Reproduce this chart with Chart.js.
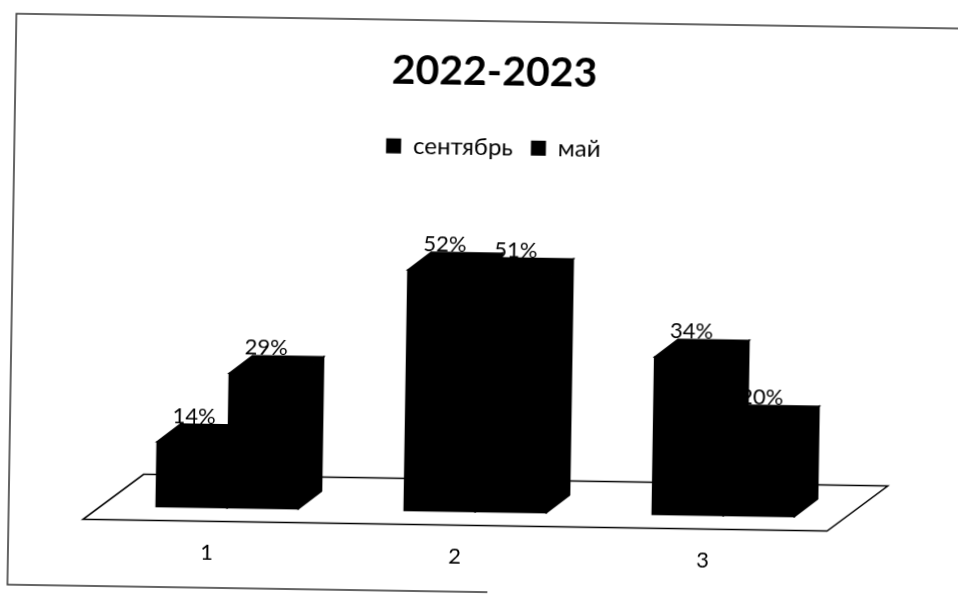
<!DOCTYPE html>
<html>
<head>
<meta charset="utf-8">
<title>2022-2023</title>
<script src="https://cdn.jsdelivr.net/npm/chart.js@4"></script>
<style>
    html, body { margin: 0; background: #fff; overflow: hidden; }
    /* the reference is a slightly crooked scan, so the whole chart leans */
    #chart { display: block; transform: rotate(0.9deg); transform-origin: 479px 297px; }
</style>
</head>
<body>
<canvas id="chart" width="958" height="594"></canvas>
<script>
const categories = ["1", "2", "3"];
const september = [14, 52, 34];
const may = [29, 51, 20];

const depthX = 23;
const depthY = 18;
const shiftX = 20;
const shiftY = 14;

function poly(ctx, pts) {
    ctx.beginPath();
    ctx.moveTo(pts[0][0], pts[0][1]);
    for (let i = 1; i < pts.length; i++) {
        ctx.lineTo(pts[i][0], pts[i][1]);
    }
    ctx.closePath();
}

const scanFrame = {
    id: "scanFrame",
    beforeDraw(chart) {
        const ctx = chart.ctx;
        ctx.save();
        ctx.strokeStyle = "#333";
        ctx.lineWidth = 1.5;
        ctx.beginPath();
        ctx.moveTo(958, 21);
        ctx.lineTo(12, 21);
        ctx.lineTo(12, 592);
        ctx.lineTo(492, 592);
        ctx.stroke();
        ctx.restore();
    }
};

// floor plane, then the bars' top and side faces
const fake3d = {
    id: "fake3d",
    beforeDatasetsDraw(chart) {
        const ctx = chart.ctx;
        const a = chart.chartArea;
        ctx.save();
        ctx.strokeStyle = "#000";
        ctx.lineWidth = 1.5;
        poly(ctx, [
            [a.left, a.bottom],
            [a.right, a.bottom],
            [a.right + 60, a.bottom - 46],
            [a.left + 60, a.bottom - 46]
        ]);
        ctx.stroke();
        ctx.restore();

        ctx.save();
        ctx.translate(shiftX, -shiftY);
    },
    afterDatasetsDraw(chart) {
        const ctx = chart.ctx;
        ctx.fillStyle = "#000";
        ctx.strokeStyle = "#000";
        ctx.lineWidth = 1.5;

        chart.data.datasets.forEach((ds, d) => {
            chart.getDatasetMeta(d).data.forEach((bar) => {
                const l = bar.x - bar.width / 2;
                const r = bar.x + bar.width / 2;
                poly(ctx, [
                    [l, bar.y],
                    [r, bar.y],
                    [r + depthX, bar.y - depthY],
                    [l + depthX, bar.y - depthY]
                ]);
                ctx.fill();
                ctx.stroke();
                poly(ctx, [
                    [r, bar.y],
                    [r + depthX, bar.y - depthY],
                    [r + depthX, bar.base - depthY],
                    [r, bar.base]
                ]);
                ctx.fill();
                ctx.stroke();
                // hides the hairline seams between faces
                ctx.strokeRect(l, bar.y, bar.width, bar.base - bar.y);
            });
        });

        ctx.font = "22px Lato";
        ctx.textAlign = "center";
        ctx.textBaseline = "alphabetic";
        chart.data.datasets.forEach((ds, d) => {
            chart.getDatasetMeta(d).data.forEach((bar, i) => {
                ctx.fillText(ds.data[i] + "%", bar.x + 1, bar.y - depthY - 1);
            });
        });
        ctx.restore();
    }
};

new Chart(document.getElementById("chart"), {
    type: "bar",
    data: {
        labels: categories,
        datasets: [
            { label: "сентябрь", data: september, backgroundColor: "#000", clip: false },
            { label: "май", data: may, backgroundColor: "#000", clip: false }
        ]
    },
    options: {
        responsive: false,
        animation: false,
        categoryPercentage: 0.573,
        barPercentage: 1,
        layout: {
            padding: { left: 24, right: 0, top: 0, bottom: 14 }
        },
        scales: {
            x: {
                grid: { display: false },
                border: { display: false },
                ticks: { color: "#000", padding: 10, font: { family: "Lato", size: 22 } }
            },
            y: {
                min: 0,
                max: 77,
                grid: { display: false },
                border: { display: false },
                ticks: { display: false },
                afterFit(scale) { scale.width = 62.5; }
            },
            // empty axis, only there to keep the floor off the right edge
            gutter: {
                position: "right",
                grid: { display: false },
                border: { display: false },
                ticks: { display: false },
                afterFit(scale) { scale.width = 127.3; }
            }
        },
        plugins: {
            title: {
                display: true,
                text: "2022-2023",
                color: "#000",
                font: { family: "Lato", size: 41, weight: "bold" },
                padding: { top: 47, bottom: 21 }
            },
            legend: {
                position: "top",
                labels: {
                    color: "#000",
                    boxWidth: 15,
                    boxHeight: 15,
                    padding: 18,
                    font: { family: "Lato", size: 24 }
                }
            },
            tooltip: { enabled: false }
        }
    },
    plugins: [scanFrame, fake3d]
});
</script>
</body>
</html>
